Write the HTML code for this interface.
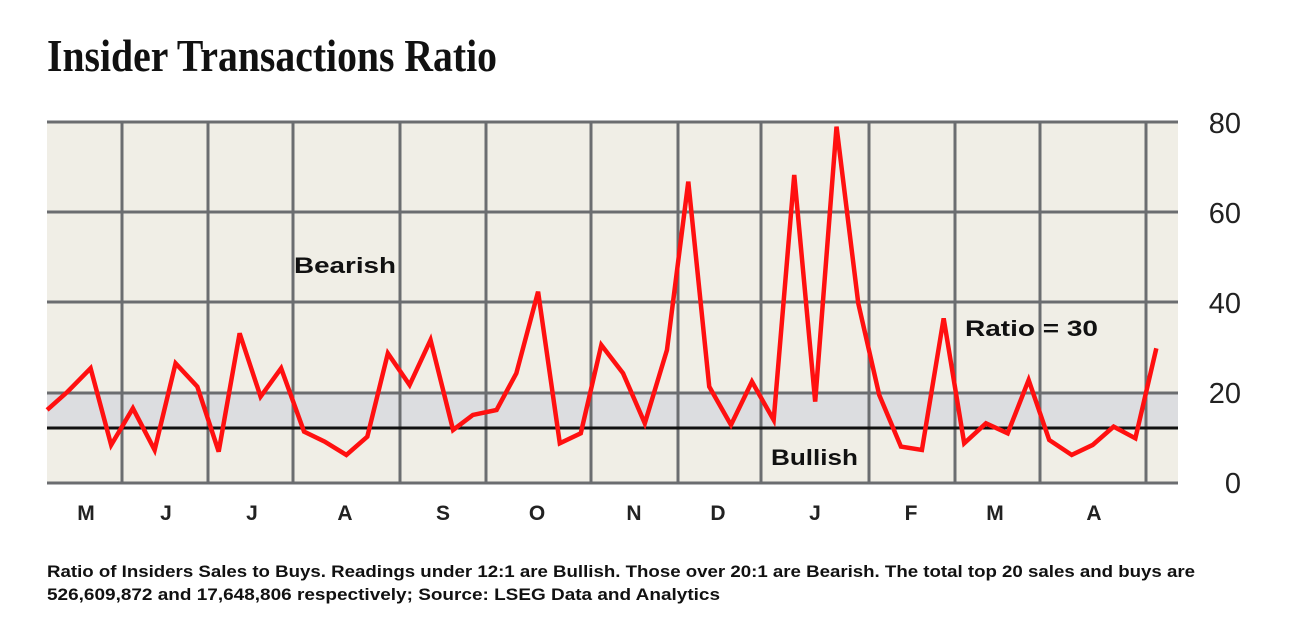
<!DOCTYPE html>
<html><head><meta charset="utf-8"><style>
html,body{margin:0;padding:0;background:#fff;}
svg{display:block;}
</style></head><body>
<svg width="1290" height="635" viewBox="0 0 1290 635" xmlns="http://www.w3.org/2000/svg">
<rect x="0" y="0" width="1290" height="635" fill="#fff"/>
<text x="47" y="71" font-family="Liberation Serif, serif" font-weight="bold" font-size="46" textLength="450" lengthAdjust="spacingAndGlyphs" fill="#111">Insider Transactions Ratio</text>
<rect x="47" y="122" width="1131" height="361" fill="#f0eee6"/>
<rect x="47" y="393" width="1131" height="36" fill="#dcdde0"/>
<g stroke="#6b6d70" stroke-width="3" fill="none">
<line x1="47" y1="122" x2="1178" y2="122"/>
<line x1="47" y1="212" x2="1178" y2="212"/>
<line x1="47" y1="302" x2="1178" y2="302"/>
<line x1="47" y1="393" x2="1178" y2="393"/>
<line x1="47" y1="483" x2="1178" y2="483"/>
<line x1="122" y1="122" x2="122" y2="483"/>
<line x1="208" y1="122" x2="208" y2="483"/>
<line x1="293" y1="122" x2="293" y2="483"/>
<line x1="400" y1="122" x2="400" y2="483"/>
<line x1="486" y1="122" x2="486" y2="483"/>
<line x1="591" y1="122" x2="591" y2="483"/>
<line x1="678" y1="122" x2="678" y2="483"/>
<line x1="761" y1="122" x2="761" y2="483"/>
<line x1="869" y1="122" x2="869" y2="483"/>
<line x1="955" y1="122" x2="955" y2="483"/>
<line x1="1040" y1="122" x2="1040" y2="483"/>
<line x1="1146" y1="122" x2="1146" y2="483"/>
</g>
<line x1="47" y1="428" x2="1178" y2="428" stroke="#111" stroke-width="3"/>
<g font-family="Liberation Sans, sans-serif" font-weight="bold" font-size="22" fill="#111">
<text x="294" y="273" textLength="102" lengthAdjust="spacingAndGlyphs">Bearish</text>
<text x="965" y="336" textLength="133" lengthAdjust="spacingAndGlyphs">Ratio = 30</text>
<text x="771" y="465" textLength="87" lengthAdjust="spacingAndGlyphs">Bullish</text>
</g>
<g transform="translate(40,110) scale(0.3953,0.3333)">
<polyline vector-effect="non-scaling-stroke" fill="none" stroke="#ff1010" stroke-width="4.5" stroke-linejoin="miter" points="18,900 70,845 128,775 180,1005 235,895 290,1020 343,760 398,830 452,1025 505,670 558,860 610,775 668,965 720,995 775,1035 828,980 880,730 935,825 988,690 1045,960 1095,915 1155,900 1205,790 1260,545 1315,1000 1368,970 1420,705 1475,790 1530,940 1586,720 1640,215 1693,830 1748,945 1801,815 1856,930 1908,195 1961,875 2015,50 2070,580 2123,855 2178,1010 2231,1020 2286,625 2338,1000 2393,940 2448,970 2501,810 2553,990 2610,1035 2663,1005 2716,950 2771,985 2824,715"/>
</g>
<g font-family="Liberation Sans, sans-serif" font-size="29" fill="#222" text-anchor="end">
<text x="1241" y="133">80</text>
<text x="1241" y="223">60</text>
<text x="1241" y="313">40</text>
<text x="1241" y="403">20</text>
<text x="1241" y="493">0</text>
</g>
<g font-family="Liberation Sans, sans-serif" font-weight="bold" font-size="21" fill="#222" text-anchor="middle">
<text x="86" y="520">M</text>
<text x="166" y="520">J</text>
<text x="252" y="520">J</text>
<text x="345" y="520">A</text>
<text x="443" y="520">S</text>
<text x="537" y="520">O</text>
<text x="634" y="520">N</text>
<text x="718" y="520">D</text>
<text x="815" y="520">J</text>
<text x="911" y="520">F</text>
<text x="995" y="520">M</text>
<text x="1094" y="520">A</text>
</g>
<g font-family="Liberation Sans, sans-serif" font-weight="bold" font-size="17" fill="#111">
<text x="47" y="577" textLength="1148" lengthAdjust="spacingAndGlyphs">Ratio of Insiders Sales to Buys. Readings under 12:1 are Bullish. Those over 20:1 are Bearish. The total top 20 sales and buys are</text>
<text x="47" y="600" textLength="673" lengthAdjust="spacingAndGlyphs">526,609,872 and 17,648,806 respectively; Source: LSEG Data and Analytics</text>
</g>
</svg>
</body></html>
